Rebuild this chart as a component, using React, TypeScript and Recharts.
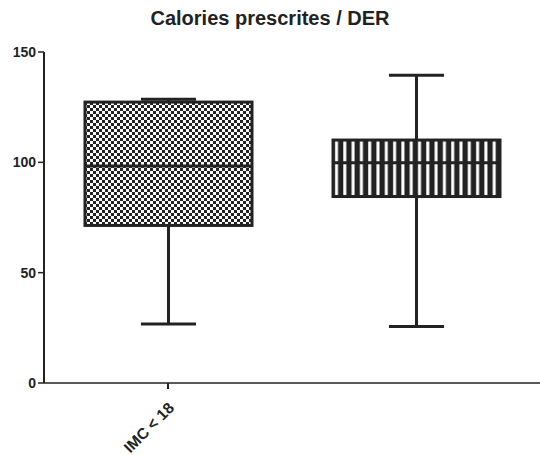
import * as React from "react";
import { Bar, ComposedChart, XAxis, YAxis } from "recharts";

const categories = ["IMC < 18", ""];
const minValues = [26.7, 25.6];
const q1Values = [71.4, 84.5];
const medianValues = [98.3, 99.8];
const q3Values = [127.3, 110.1];
const maxValues = [128.6, 139.5];
const fills = ["url(#box-checker)", "url(#box-stripes)"];
const yTicks = [0, 50, 100, 150];

const data = categories.map((name, i) => ({
  name,
  min: minValues[i],
  q1: q1Values[i],
  median: medianValues[i],
  q3: q3Values[i],
  max: maxValues[i],
  fill: fills[i],
}));

const INK = "#222";
const FONT = "Liberation Sans, Arial, sans-serif";

function BoxShape(props: any) {
  const { x, y, width, height, payload } = props;
  if (!payload || !height) return null;
  const { min, q1, median, q3, max, fill } = payload;
  const perUnit = height / (max - min);
  const yOf = (v: number) => y + (max - v) * perUnit;
  const cx = x + width / 2;
  const capHalf = width * 0.165;
  return (
    <g>
      <line x1={cx} x2={cx} y1={yOf(max)} y2={yOf(min)} stroke={INK} strokeWidth={3} />
      <line x1={cx - capHalf} x2={cx + capHalf} y1={yOf(max)} y2={yOf(max)} stroke={INK} strokeWidth={3} />
      <line x1={cx - capHalf} x2={cx + capHalf} y1={yOf(min)} y2={yOf(min)} stroke={INK} strokeWidth={3} />
      <rect
        x={x}
        y={yOf(q3)}
        width={width}
        height={yOf(q1) - yOf(q3)}
        fill={fill}
        stroke={INK}
        strokeWidth={3}
      />
      <line x1={x} x2={x + width} y1={yOf(median)} y2={yOf(median)} stroke={INK} strokeWidth={3} />
    </g>
  );
}

function CategoryTick(props: any) {
  const { x, y, payload } = props;
  if (!payload?.value) return null;
  const ax = x + 7;
  const ay = y + 18;
  return (
    <g>
      <line x1={x} x2={x} y1={y - 8} y2={y - 2} stroke={INK} strokeWidth={2} />
      <text
        x={ax}
        y={ay}
        transform={`rotate(-45 ${ax} ${ay})`}
        textAnchor="end"
        fontFamily={FONT}
        fontWeight="bold"
        fontSize={15.5}
        fill={INK}
      >
        {payload.value}
      </text>
    </g>
  );
}

export default function App() {
  return (
    <div style={{ position: "absolute", left: 0, top: 0, width: 540, height: 455, background: "#fff" }}>
      <div
        style={{
          position: "absolute",
          left: 0,
          top: 7,
          width: 540,
          textAlign: "center",
          fontFamily: FONT,
          fontWeight: "bold",
          fontSize: 20,
          color: INK,
        }}
      >
        Calories prescrites / DER
      </div>
      <ComposedChart
        width={540}
        height={455}
        data={data}
        margin={{ top: 52, right: 0, left: 0, bottom: 12 }}
        barSize={167}
      >
        <defs>
          <pattern id="box-checker" width="6" height="6" patternUnits="userSpaceOnUse">
            <rect width="6" height="6" fill="#fff" />
            <rect width="3" height="3" fill="#222" />
            <rect x="3" y="3" width="3" height="3" fill="#222" />
          </pattern>
          <pattern id="box-stripes" width="8.3" height="8" patternUnits="userSpaceOnUse">
            <rect width="8.3" height="8" fill="#222" />
            <rect x="3" width="3" height="8" fill="#fff" />
          </pattern>
        </defs>
        <XAxis
          dataKey="name"
          height={60}
          axisLine={{ stroke: INK, strokeWidth: 1.5 }}
          tickLine={false}
          tick={<CategoryTick />}
          interval={0}
        />
        <YAxis
          width={44}
          domain={[0, 150]}
          ticks={yTicks}
          tickSize={6}
          axisLine={{ stroke: INK, strokeWidth: 2 }}
          tickLine={{ stroke: INK, strokeWidth: 1.5 }}
          tick={{
            fill: INK,
            fontSize: 14,
            fontWeight: "bold",
            fontFamily: FONT,
          }}
        />
        <Bar
          dataKey={(d: any) => [d.min, d.max]}
          shape={<BoxShape />}
          isAnimationActive={false}
        />
      </ComposedChart>
    </div>
  );
}
